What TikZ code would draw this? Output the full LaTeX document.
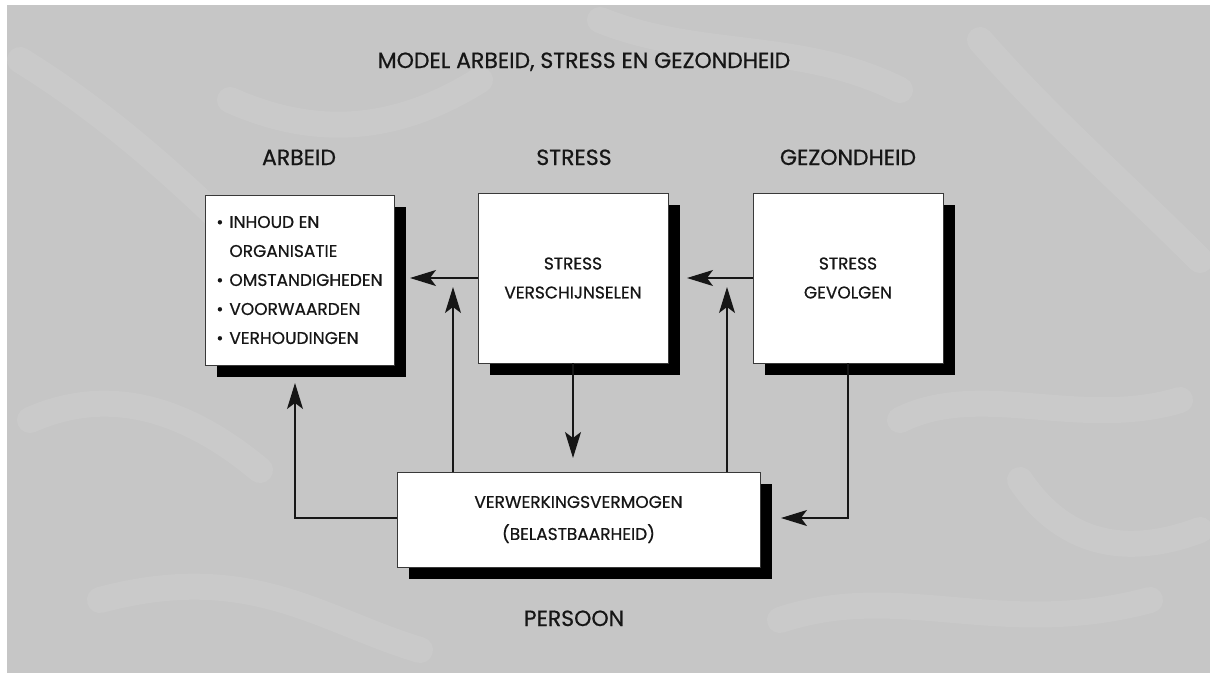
\documentclass[tikz,border=0pt]{standalone}
\usepackage{fontspec}
\setmainfont{Poppins}[FakeBold=0.6]
\usetikzlibrary{arrows.meta,shadows}
\definecolor{paper}{RGB}{198,198,198}
\definecolor{ink}{RGB}{22,22,22}
\tikzset{
  box/.style={draw=ink!85, line width=0.8pt, fill=white, inner sep=0pt,
    drop shadow={shadow xshift=12pt, shadow yshift=-12pt, fill=black, opacity=1},
    align=center, font=\fontsize{17}{29}\selectfont, text=ink},
  arr/.style={draw=ink, line width=1.3pt, -{Stealth[length=26pt,width=16pt,inset=6pt]}},
  head/.style={font=\fontsize{22}{26}\selectfont, text=ink, anchor=base, inner sep=0pt},
  streak/.style={white, opacity=0.08, line width=26pt, line cap=round},
}
\begin{document}
\begin{tikzpicture}[x=1pt,y=-1pt]
\useasboundingbox (0,0) rectangle (1210,673);
\fill[white] (0,0) rectangle (1210,673);
\fill[paper] (7,5) rectangle (1210,673);
% faint paper texture
\begin{scope}
\clip (7,5) rectangle (1210,673);
\draw[streak] (20,60) .. controls (150,140) and (250,250) .. (330,330);
\draw[streak] (230,100) .. controls (320,140) and (400,130) .. (480,80);
\draw[streak] (30,420) .. controls (120,380) and (200,420) .. (260,470);
\draw[streak] (100,600) .. controls (250,560) and (320,620) .. (420,650);
\draw[streak] (980,40) .. controls (1050,120) and (1120,180) .. (1200,260);
\draw[streak] (900,420) .. controls (980,380) and (1080,430) .. (1180,400);
\draw[streak] (780,620) .. controls (900,580) and (1000,640) .. (1150,600);
\draw[streak] (600,20) .. controls (700,60) and (800,40) .. (900,90);
\draw[streak] (1020,480) .. controls (1060,540) and (1120,560) .. (1200,530);
\end{scope}

% headings
\node[head] (title) at (584,68) {MODEL ARBEID, STRESS EN GEZONDHEID};
\node[head] (hA) at (299,165) {ARBEID};
\node[head] (hS) at (574,165) {STRESS};
\node[head] (hG) at (848,165) {GEZONDHEID};
\node[head] (hP) at (574,626) {PERSOON};

% boxes
\node[box, align=left, minimum width=189pt, minimum height=170pt] (arbeid) at (299.5,280)
  {\makebox[13pt][l]{\textbullet}INHOUD EN\\\hspace*{13pt}ORGANISATIE\\
   \makebox[13pt][l]{\textbullet}OMSTANDIGHEDEN\\
   \makebox[13pt][l]{\textbullet}VOORWAARDEN\\
   \makebox[13pt][l]{\textbullet}VERHOUDINGEN};
\node[box, minimum width=190pt, minimum height=170pt] (stress) at (573,278)
  {STRESS\\VERSCHIJNSELEN};
\node[box, minimum width=190pt, minimum height=170pt] (gevolg) at (848,278)
  {STRESS\\GEVOLGEN};
\node[box, font=\fontsize{17}{32}\selectfont, minimum width=363pt, minimum height=95pt] (verw) at (578.5,519.5)
  {VERWERKINGSVERMOGEN\\(BELASTBAARHEID)};

% connector end points
\coordinate (e1) at (410,278);
\coordinate (e2) at (687,278);
\coordinate (e3) at (453,287);
\coordinate (e4) at (727,287);
\coordinate (e5) at (573,458);
\coordinate (e6) at (295,383);
\coordinate (e7) at (781,518);

% connectors
\draw[arr] (stress.west) -- (e1);
\draw[arr] (gevolg.west) -- (e2);
\draw[arr] (verw.north -| e3) -- (e3);
\draw[arr] (verw.north -| e4) -- (e4);
\draw[arr] (stress.south) -- (e5);
\draw[arr] (verw.west |- 0,518) -| (e6);
\draw[arr] (gevolg.south) |- (e7);
\end{tikzpicture}
\end{document}
